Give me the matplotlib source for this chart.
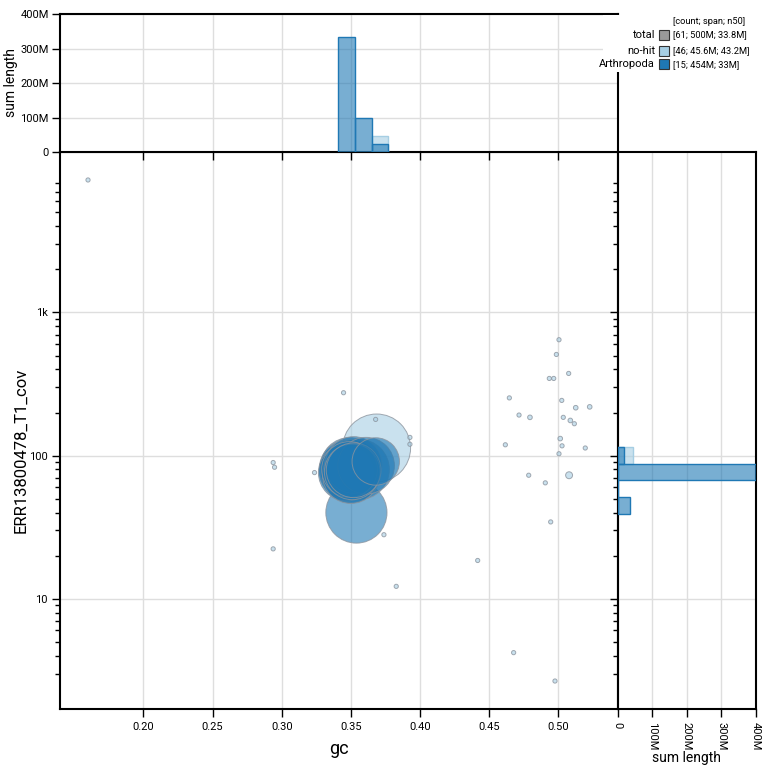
import numpy as np
import matplotlib.pyplot as plt
from matplotlib.patches import Rectangle
from matplotlib.colors import to_rgba
from matplotlib.ticker import FixedLocator, NullFormatter

plt.rcParams['font.family'] = ['Roboto', 'DejaVu Sans']

# Category colours
arth_colour = '#1f78b4'
nohit_colour = '#a6cee3'
total_colour = '#999999'

# Arthropoda contigs: gc, coverage, length (Mb)
arth_gc = [0.347, 0.348, 0.349, 0.350, 0.351, 0.352, 0.349, 0.350, 0.351, 0.348, 0.352,
           0.356, 0.361, 0.354, 0.368]
arth_cov = [76, 78, 80, 75, 82, 79, 84, 73, 77, 81, 86, 80, 85, 40, 91]
arth_len = [30, 31, 29, 32, 30, 28, 31, 30, 29, 31, 30, 34, 30, 35, 21]

# no-hit contigs: gc, coverage, length (Mb)
nohit_gc = [0.3686, 0.1599, 0.3447, 0.3679, 0.3927, 0.3927, 0.2938, 0.2948, 0.3237, 0.3739,
            0.2938, 0.3828, 0.4417, 0.4945, 0.4677, 0.4976, 0.5005, 0.4986, 0.5075, 0.4935,
            0.4967, 0.4646, 0.5025, 0.5126, 0.5227, 0.4716, 0.4795, 0.5036, 0.5087, 0.5116,
            0.5014, 0.5027, 0.4617, 0.5195, 0.5005, 0.4786, 0.5078, 0.4906]
nohit_cov = [113, 8430, 275, 179, 134, 120, 89.4, 82.9, 76.1, 28.0,
             22.3, 12.2, 18.5, 34.4, 4.2, 2.66, 645, 509, 375, 346,
             346, 253, 243, 216, 219, 192, 185, 185, 176, 167,
             131.5, 117, 119, 113, 103, 72.9, 72.9, 64.5]
nohit_len = [43.2, 0.03, 0.03, 0.03, 0.05, 0.05, 0.03, 0.03, 0.05, 0.03,
             0.02, 0.02, 0.03, 0.03, 0.03, 0.03, 0.03, 0.03, 0.03, 0.03,
             0.03, 0.03, 0.03, 0.2, 0.2, 0.03, 0.2, 0.03, 0.2, 0.05,
             0.2, 0.05, 0.03, 0.03, 0.03, 0.03, 0.45, 0.05]

# Binned span sums for the marginal histograms
gc_bin_edges = [0.341, 0.353, 0.365, 0.377]
arth_gc_span = [332e6, 99e6, 24e6]
nohit_gc_span = [0, 0, 45e6]
cov_bin_edges = [39.2, 51.3, 67.2, 87.9, 115.1]
arth_cov_span = [35e6, 0, 400e6, 19e6]
nohit_cov_span = [0, 0, 0, 44e6]

gc_ticks = [0.20, 0.25, 0.30, 0.35, 0.40, 0.45, 0.50]
gc_tick_labels = ['0.20', '0.25', '0.30', '0.35', '0.40', '0.45', '0.50']
cov_ticks = [10, 100, 1000]
cov_tick_labels = ['10', '100', '1k']
span_ticks = [0, 100e6, 200e6, 300e6, 400e6]
span_tick_labels = ['0', '100M', '200M', '300M', '400M']

legend_title = '[count; span; n50]'
legend_labels = ['total', 'no-hit', 'Arthropoda']
legend_colours = [total_colour, nohit_colour, arth_colour]
legend_stats = ['[61; 500M; 33.8M]', '[46; 45.6M; 43.2M]', '[15; 454M; 33M]']


def marker_area(lengths):
    # radius in px grows with sqrt(length), with a minimum dot size
    r = np.maximum(5.17 * np.sqrt(lengths), 2.1)
    return (2 * r * 72 / 100) ** 2


def fx(px):
    return px / 770


def fy(px):
    return 1 - px / 770


fig = plt.figure(figsize=(7.7, 7.7), dpi=100)
ax = fig.add_axes([fx(60), fy(709), fx(557.7), fx(557)])
ax_top = fig.add_axes([fx(60), fy(152), fx(557.7), fx(138)])
ax_right = fig.add_axes([fx(617.7), fy(709), fx(138.3), fx(557)])

# Main scatter, biggest contigs drawn first
gc_all = np.array(arth_gc + nohit_gc)
cov_all = np.array(arth_cov + nohit_cov, dtype=float)
len_all = np.array(arth_len + nohit_len, dtype=float)
face = [to_rgba(arth_colour, 0.6)] * len(arth_gc) + [to_rgba(nohit_colour, 0.6)] * len(nohit_gc)
face = np.array(face)
order = np.argsort(-len_all, kind='stable')
ax.scatter(gc_all[order], cov_all[order], s=marker_area(len_all[order]), c=face[order],
           edgecolors=[(0.55, 0.58, 0.62, 0.8)], linewidths=0.7, zorder=3)

ax.set_yscale('log')
pad = 28 / 501.5
gmin, gmax = gc_all.min(), gc_all.max()
ax.set_xlim(gmin - pad * (gmax - gmin), gmax + pad * (gmax - gmin))
lmin, lmax = np.log10(cov_all.min()), np.log10(cov_all.max())
ax.set_ylim(10 ** (lmin - pad * (lmax - lmin)), 10 ** (lmax + pad * (lmax - lmin)))

minor_cov = [m * 10 ** e for e in range(0, 4) for m in range(2, 10)
             if cov_all.min() <= m * 10 ** e <= cov_all.max()]

ax.set_xticks(gc_ticks)
ax.set_xticklabels(gc_tick_labels)
ax.yaxis.set_major_locator(FixedLocator(cov_ticks))
ax.yaxis.set_minor_locator(FixedLocator(minor_cov))
ax.set_yticks(cov_ticks)
ax.set_yticklabels(cov_tick_labels)
ax.yaxis.set_minor_formatter(NullFormatter())
ax.tick_params(axis='both', which='major', direction='out', length=6, width=1,
               labelsize=8, pad=3)
ax.tick_params(axis='y', which='minor', direction='out', length=3.5, width=1)
ax.grid(True, which='major', color='#dedede', lw=1)
ax.set_axisbelow(True)
ax.set_xlabel('gc', fontsize=13, labelpad=6)
ax.set_ylabel('ERR13800478_T1_cov', fontsize=12)
ax.yaxis.set_label_coords((28 - 60) / 557.7, 0.465)

# Top histogram (span by gc)
gc_edges = np.array(gc_bin_edges)
ax_top.bar(gc_edges[:-1], nohit_gc_span, width=np.diff(gc_edges), align='edge',
           facecolor=to_rgba(nohit_colour, 0.6), edgecolor=nohit_colour, lw=1, zorder=3)
ax_top.bar(gc_edges[:-1], arth_gc_span, width=np.diff(gc_edges), align='edge',
           facecolor=to_rgba(arth_colour, 0.6), edgecolor=arth_colour, lw=1, zorder=3)
ax_top.set_xlim(ax.get_xlim())
ax_top.set_ylim(0, 400e6)
ax_top.set_xticks(gc_ticks)
ax_top.set_yticks(span_ticks)
ax_top.set_yticklabels(span_tick_labels)
ax_top.tick_params(axis='x', direction='out', length=6, width=1, labelbottom=False)
ax_top.tick_params(axis='y', direction='out', length=6, width=1, labelsize=8, pad=2)
ax_top.grid(True, color='#dedede', lw=1)
ax_top.set_axisbelow(True)
ax_top.set_ylabel('sum length', fontsize=10, labelpad=2)

# Right histogram (span by coverage)
cov_edges = np.array(cov_bin_edges)
ax_right.barh(cov_edges[:-1], nohit_cov_span, height=np.diff(cov_edges), align='edge',
              facecolor=to_rgba(nohit_colour, 0.6), edgecolor=nohit_colour, lw=1, zorder=3)
ax_right.barh(cov_edges[:-1], arth_cov_span, height=np.diff(cov_edges), align='edge',
              facecolor=to_rgba(arth_colour, 0.6), edgecolor=arth_colour, lw=1, zorder=3)
ax_right.set_yscale('log')
ax_right.set_ylim(ax.get_ylim())
ax_right.set_xlim(0, 400e6)
ax_right.yaxis.set_major_locator(FixedLocator(cov_ticks))
ax_right.yaxis.set_minor_locator(FixedLocator(minor_cov))
ax_right.yaxis.set_major_formatter(NullFormatter())
ax_right.yaxis.set_minor_formatter(NullFormatter())
ax_right.set_xticks(span_ticks)
ax_right.set_xticklabels(span_tick_labels, rotation=-90)
ax_right.tick_params(axis='y', which='major', direction='out', length=6, width=1)
ax_right.tick_params(axis='y', which='minor', direction='out', length=3.5, width=1)
ax_right.tick_params(axis='x', direction='out', length=6, width=1, labelsize=8, pad=3)
ax_right.grid(True, which='major', color='#dedede', lw=1)
ax_right.set_axisbelow(True)
ax_right.set_xlabel('sum length', fontsize=10, labelpad=1)

for a in (ax, ax_top, ax_right):
    for sp in a.spines.values():
        sp.set_linewidth(1.5)
        sp.set_color('black')

# Legend, drawn over a white patch in figure pixels
fig.add_artist(Rectangle((fx(603), fy(72)), fx(167), fx(57), transform=fig.transFigure,
                         facecolor='white', edgecolor='none', zorder=5))
fig.text(fx(673), fy(21.7), legend_title, fontsize=6.7, ha='left', va='center', zorder=6)
row_y = [35, 50.7, 64.3]
for lab, col, stat, yy in zip(legend_labels, legend_colours, legend_stats, row_y):
    fig.text(fx(655), fy(yy), lab, fontsize=8, ha='right', va='center', zorder=6)
    fig.add_artist(Rectangle((fx(659), fy(yy + 5)), fx(10), fx(10), transform=fig.transFigure,
                             facecolor=col, edgecolor='#333333', lw=0.8, zorder=6))
    fig.text(fx(673), fy(yy), stat, fontsize=6.7, ha='left', va='center', zorder=6)

fig.savefig('out.png', dpi=100, facecolor='white')
